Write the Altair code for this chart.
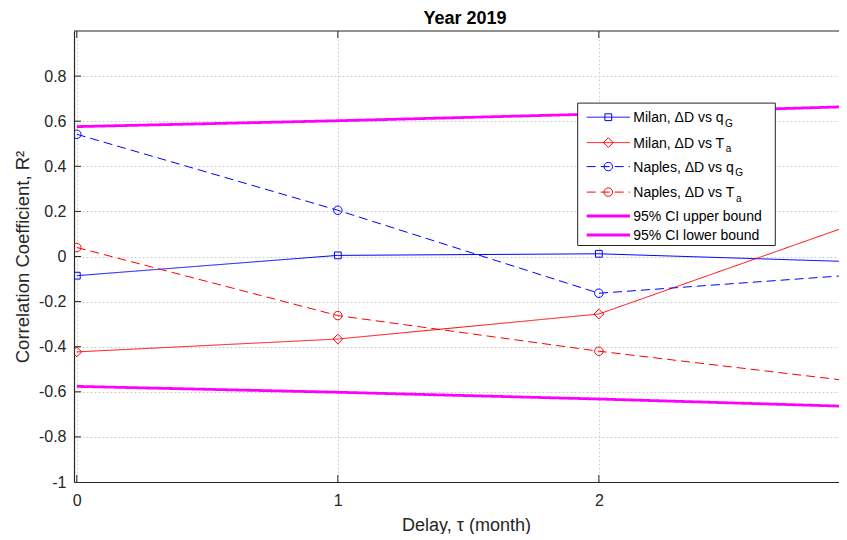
import altair as alt
import pandas as pd

# ---------------- data ----------------
delay = [0, 1, 2, 3]
milan_qG = [-0.085, 0.005, 0.012, -0.024]
milan_Ta = [-0.423, -0.366, -0.255, 0.153]
naples_qG = [0.542, 0.205, -0.163, -0.080]
naples_Ta = [0.040, -0.262, -0.420, -0.557]
ci_upper = [0.576, 0.602, 0.632, 0.666]
ci_lower = [-0.576, -0.602, -0.632, -0.666]

series_labels = ["Milan, ΔD vs q", "Milan, ΔD vs T", "Naples, ΔD vs q",
                 "Naples, ΔD vs T", "95% CI upper bound", "95% CI lower bound"]
series_subs = ["G", "a", "G", "a", "", ""]
series_values = [milan_qG, milan_Ta, naples_qG, naples_Ta, ci_upper, ci_lower]

x_ticks = [0, 1, 2]
y_ticks = [-1, -0.8, -0.6, -0.4, -0.2, 0, 0.2, 0.4, 0.6, 0.8]

chart_title = "Year 2019"
x_title = "Delay, τ (month)"
y_title = "Correlation Coefficient, R²"

# ---------------- styles ----------------
BLUE, RED, MAG = "#0000ff", "#ff0000", "#ff00ff"
AX = "#262626"
FONT = "Liberation Sans"
styles = [
    dict(color=BLUE, dash=[1, 0], shape="square", size=46, width=1),
    dict(color=RED, dash=[1, 0], shape="diamond", size=95, width=1),
    dict(color=BLUE, dash=[9, 5], shape="circle", size=72, width=1),
    dict(color=RED, dash=[9, 5], shape="circle", size=72, width=1),
    dict(color=MAG, dash=[1, 0], shape=None, size=0, width=2.8),
    dict(color=MAG, dash=[1, 0], shape=None, size=0, width=2.8),
]

W, H = 765, 451
xs = alt.Scale(domain=[-0.0107, 2.920], nice=False, zero=False)
ys = alt.Scale(domain=[-1, 1], nice=False, zero=False)

x_axis = alt.Axis(values=x_ticks, format="d", grid=True, gridColor="#cfcfcf",
                  gridDash=[2, 2], gridWidth=1, domainColor=AX, domainWidth=1.2,
                  ticks=False, tickSize=0, labelFont=FONT, labelFontSize=16,
                  labelColor=AX, labelPadding=10, labelFlush=False,
                  title=x_title, titleFont=FONT, titleFontSize=18,
                  titleFontWeight="normal", titleColor=AX, titleX=392, titleY=48,
                  titleBaseline="alphabetic", titleAlign="center")
y_axis = alt.Axis(values=y_ticks, labelExpr="toString(round(datum.value*10)/10)",
                  grid=True, gridColor="#cfcfcf", gridDash=[2, 2], gridWidth=1,
                  domainColor=AX, domainWidth=1.2, ticks=False, tickSize=0,
                  labelFont=FONT, labelFontSize=16, labelColor=AX, labelPadding=8,
                  labelFlush=False, title=y_title, titleFont=FONT, titleFontSize=18.5,
                  titleFontWeight="normal", titleColor=AX, titleAngle=-90,
                  titleX=-52, titleY=H / 2, titleBaseline="middle", titleAlign="center")

x_enc = alt.X("x:Q", scale=xs, axis=x_axis)
y_enc = alt.Y("y:Q", scale=ys, axis=y_axis)

rows = []
for lab, vals in zip(series_labels, series_values):
    for xv, yv in zip(delay, vals):
        rows.append({"series": lab, "x": xv, "y": yv})
df = pd.DataFrame(rows)

layers = []
# data lines, drawn in plotting order
for lab, st in zip(series_labels, styles):
    sub = df[df.series == lab]
    layers.append(alt.Chart(sub).mark_line(color=st["color"], strokeWidth=st["width"],
                                           strokeDash=st["dash"], clip=True)
                  .encode(x=x_enc, y=y_enc))
    if st["shape"]:
        layers.append(alt.Chart(sub).mark_point(shape=st["shape"], size=st["size"],
                                                filled=False, color=st["color"],
                                                strokeWidth=1, opacity=1, clip=True)
                      .encode(x=x_enc, y=y_enc))

# frame top line and inward ticks
one = pd.DataFrame({"k": [0]})
layers.append(alt.Chart(one).mark_rule(color=AX, strokeWidth=1.2)
              .encode(x=alt.value(0), x2=alt.value(W), y=alt.value(0)))
xt = pd.DataFrame({"x": x_ticks})
yt = pd.DataFrame({"y": y_ticks[1:]})
layers.append(alt.Chart(xt).mark_rule(color=AX, strokeWidth=1)
              .encode(x=x_enc, y=alt.value(H), y2=alt.value(H - 7)))
layers.append(alt.Chart(xt).mark_rule(color=AX, strokeWidth=1)
              .encode(x=x_enc, y=alt.value(0), y2=alt.value(7)))
layers.append(alt.Chart(yt).mark_rule(color=AX, strokeWidth=1)
              .encode(y=y_enc, x=alt.value(0), x2=alt.value(7)))

# ---------------- legend (drawn by hand to allow subscripts) ----------------
LX0, LX1, LY0, LY1 = 503.7, 701.3, 72.1, 214.5
layers.append(alt.Chart(one).mark_rect(fill="white", stroke=AX, strokeWidth=1)
              .encode(x=alt.value(LX0), x2=alt.value(LX1), y=alt.value(LY0), y2=alt.value(LY1)))
row_y = [86.2, 111.6, 135.6, 161.1, 185.0, 204.0]
ARIAL = {"M": .833, "i": .222, "l": .222, "a": .556, "n": .556, ",": .278, " ": .278,
         "Δ": .668, "D": .722, "v": .5, "s": .5, "q": .556, "T": .611, "N": .722,
         "p": .556, "e": .556}
FS = 14
for lab, subtxt, st, ry in zip(series_labels, series_subs, styles, row_y):
    layers.append(alt.Chart(one).mark_rule(color=st["color"], strokeWidth=st["width"],
                                           strokeDash=st["dash"])
                  .encode(x=alt.value(512.7), x2=alt.value(556), y=alt.value(ry)))
    if st["shape"]:
        layers.append(alt.Chart(one).mark_point(shape=st["shape"], size=st["size"],
                                                filled=False, color=st["color"],
                                                strokeWidth=1, opacity=1)
                      .encode(x=alt.value(534.3), y=alt.value(ry)))
    layers.append(alt.Chart(one).mark_text(text=lab, font=FONT, fontSize=FS, color="black",
                                           align="left", baseline="alphabetic")
                  .encode(x=alt.value(559.3), y=alt.value(ry + 5)))
    if subtxt:
        wdt = sum(ARIAL.get(c, .556) for c in lab) * FS
        layers.append(alt.Chart(one).mark_text(text=subtxt, font=FONT, fontSize=10,
                                               color="black", align="left",
                                               baseline="alphabetic")
                      .encode(x=alt.value(559.3 + wdt + 1.5), y=alt.value(ry + 9.5)))

chart = alt.layer(*layers).properties(
    width=W, height=H,
    title=alt.TitleParams(chart_title, font=FONT, fontSize=18, fontWeight="bold",
                          color="black", anchor="middle", frame="group", offset=2.5,
                          dx=8.5),
    autosize=alt.AutoSizeParams(type="none"),
    padding={"left": 66, "top": 23, "right": 0, "bottom": 52},
    background="white",
).configure_view(strokeWidth=0)

chart.save("out.html", embed_options={"renderer": "svg", "actions": False})
